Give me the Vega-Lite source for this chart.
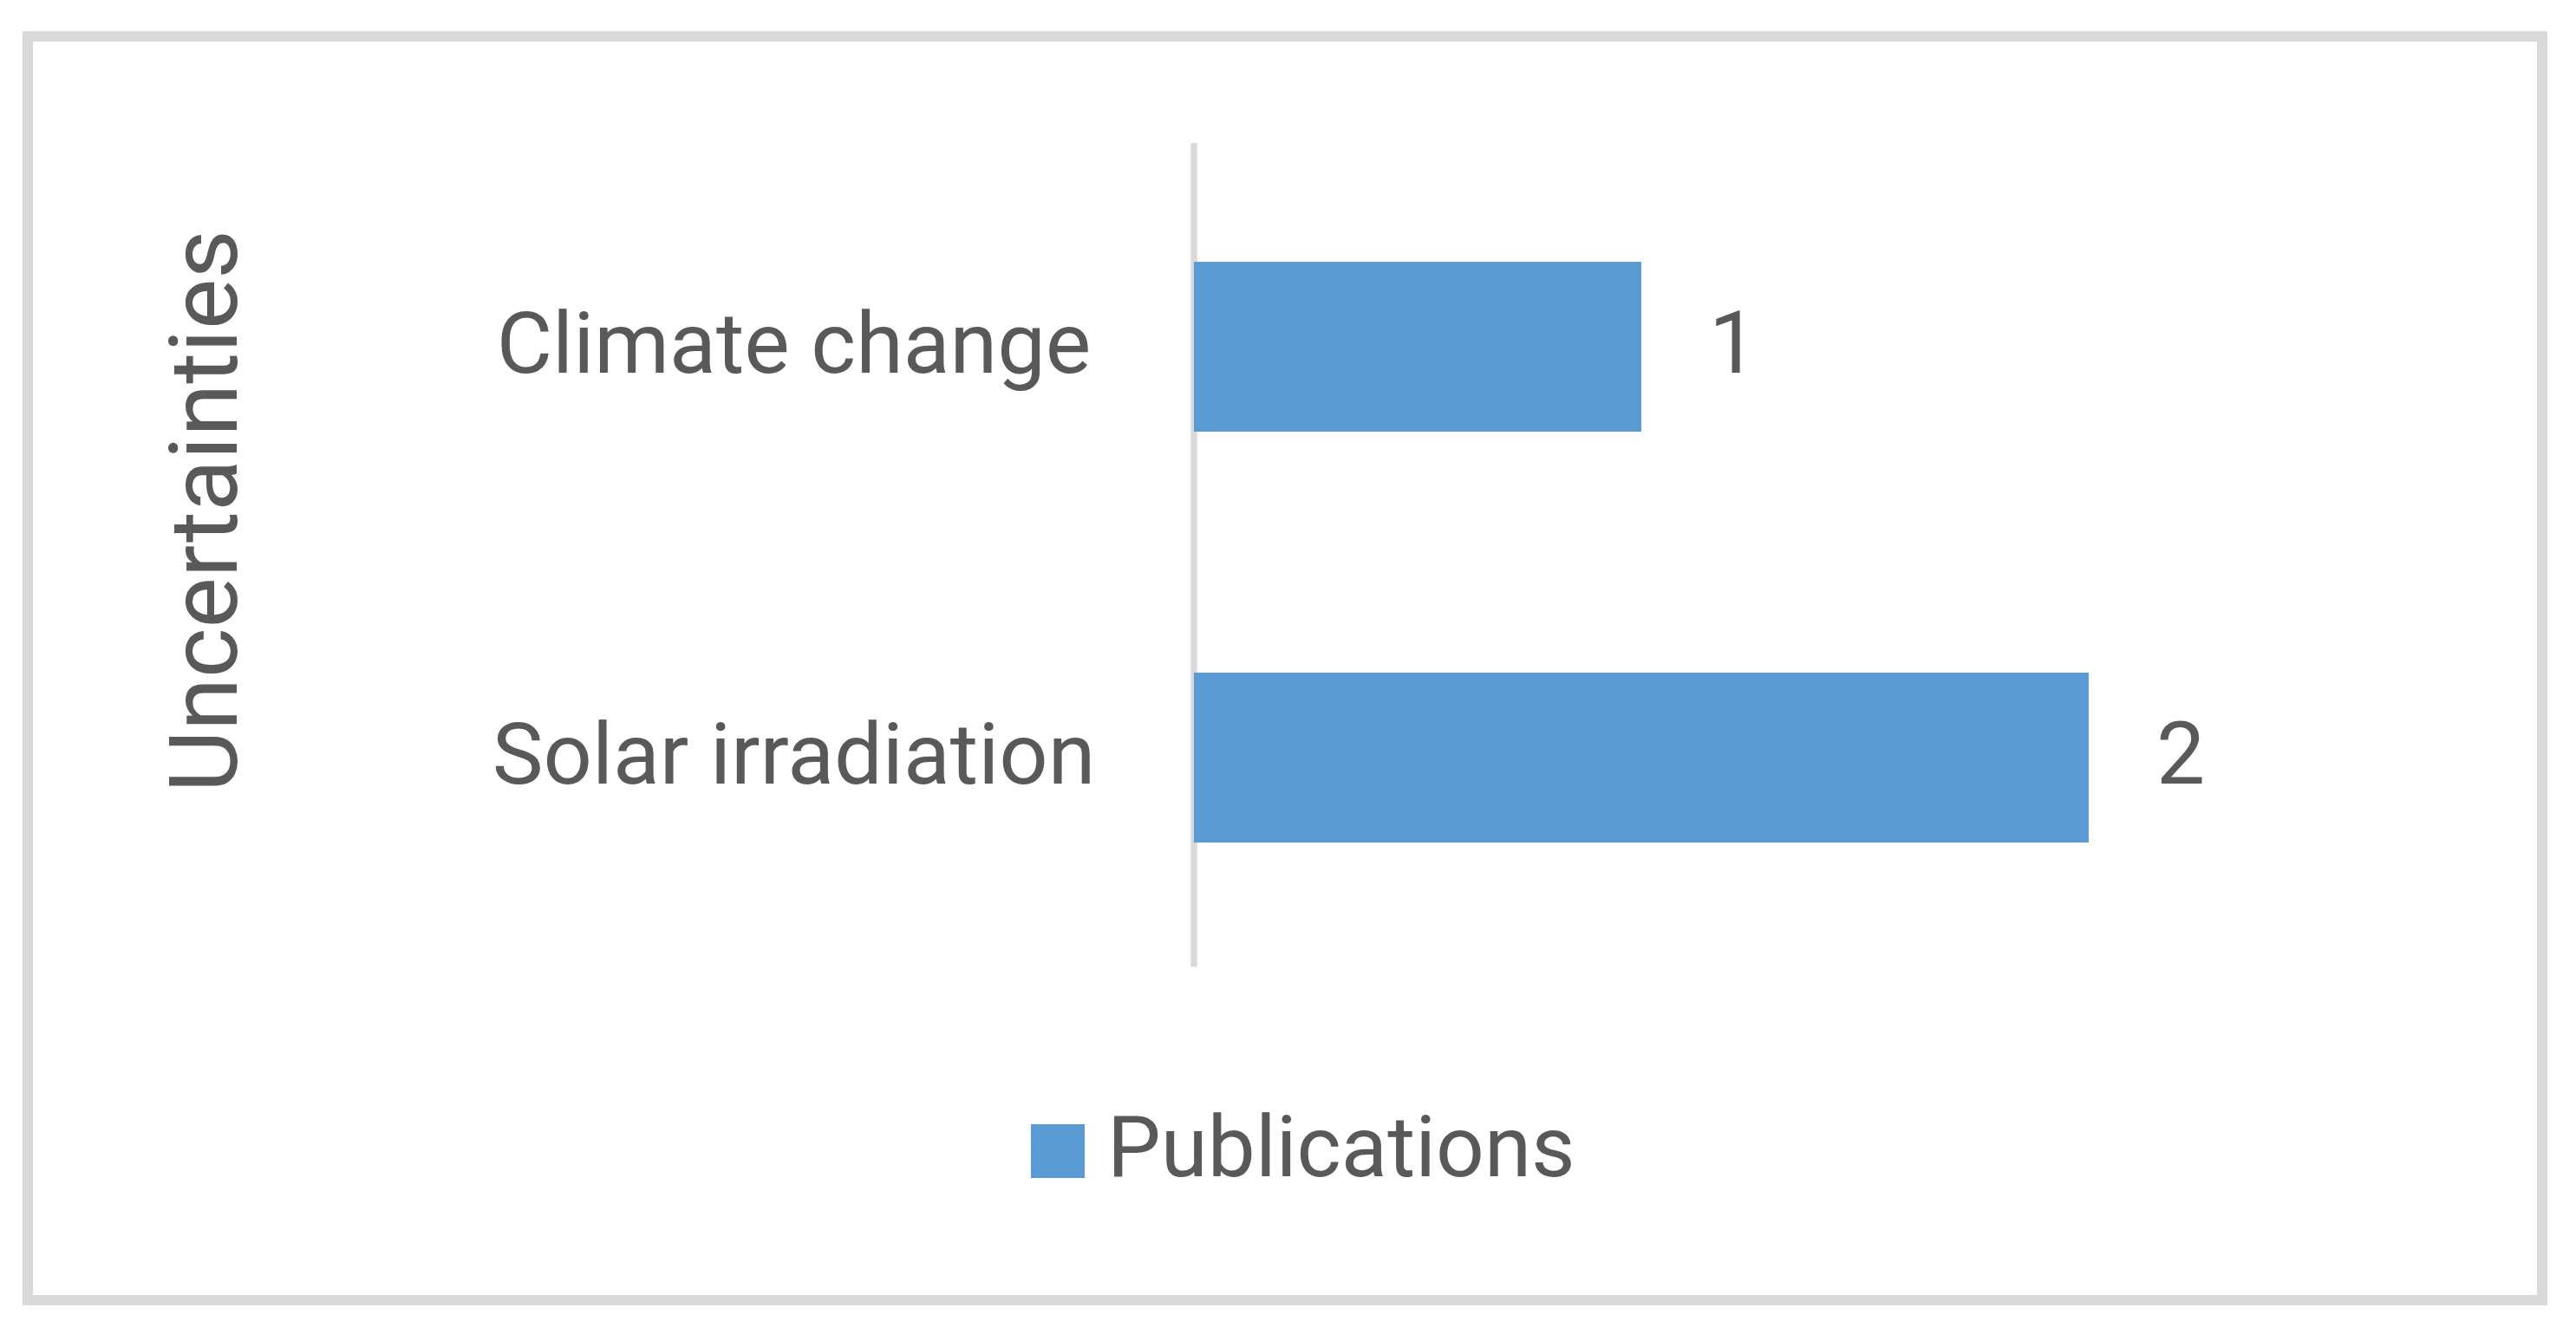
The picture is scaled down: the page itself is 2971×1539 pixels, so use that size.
{
  "$schema": "https://vega.github.io/schema/vega-lite/v6.json",
  "width": 2900,
  "height": 1458,
  "autosize": {"type": "none"},
  "padding": {"left": 32, "top": 42, "right": 39, "bottom": 39},
  "background": "#ffffff",
  "config": {
    "view": {"stroke": "#d9d9d9", "strokeWidth": 12},
    "font": "Roboto"
  },
  "data": {
    "values": [
      {"uncertainty": "Climate change", "publications": 1, "series": "Publications"},
      {"uncertainty": "Solar irradiation", "publications": 2, "series": "Publications"}
    ]
  },
  "encoding": {
    "y": {
      "field": "uncertainty",
      "type": "nominal",
      "sort": ["Climate change", "Solar irradiation"],
      "scale": {"paddingInner": 0.5865, "paddingOuter": 0.831, "align": 0.33},
      "axis": {
        "title": "Uncertainties",
        "domain": false,
        "ticks": false,
        "grid": false,
        "offset": -883,
        "labelPadding": 0,
        "labelAlign": "center",
        "labelFontSize": 99,
        "labelColor": "#595959",
        "labelLimit": 3000,
        "labelFont": "Roboto",
        "titleFont": "Roboto",
        "titleFontSize": 110,
        "titleFontWeight": "normal",
        "titleColor": "#595959",
        "titleAngle": -90,
        "titleBaseline": "alphabetic",
        "titleAlign": "center",
        "titleX": -643,
        "titleY": 547
      }
    }
  },
  "layer": [
    {
      "mark": {"type": "rule", "color": "#d9d9d9", "strokeWidth": 7},
      "encoding": {
        "x": {"datum": 0, "type": "quantitative", "scale": {"domain": [-2.6066, 3.0136], "nice": false, "zero": false}, "axis": null},
        "y": {"datum": "Climate change", "bandPosition": -0.699},
        "y2": {"datum": "Solar irradiation", "bandPosition": 1.73}
      }
    },
    {
      "mark": {"type": "bar"},
      "encoding": {
        "x": {"field": "publications", "type": "quantitative", "scale": {"domain": [-2.6066, 3.0136], "nice": false, "zero": false}, "axis": null},
        "color": {
          "field": "series",
          "type": "nominal",
          "scale": {"range": ["#5b9bd5"]},
          "legend": {
            "title": null,
            "orient": "none",
            "legendX": 1139,
            "legendY": 1237,
            "symbolType": "square",
            "symbolSize": 3844,
            "symbolStrokeWidth": 0,
            "labelFontSize": 98,
            "labelFont": "Roboto",
            "labelColor": "#595959",
            "labelOffset": 8,
            "labelLimit": 3000
          }
        }
      }
    },
    {
      "mark": {"type": "text", "align": "left", "baseline": "middle", "dx": 78, "fontSize": 100, "color": "#595959", "font": "Roboto"},
      "encoding": {
        "x": {"field": "publications", "type": "quantitative", "scale": {"domain": [-2.6066, 3.0136], "nice": false, "zero": false}, "axis": null},
        "text": {"field": "publications", "type": "quantitative"}
      }
    }
  ]
}
